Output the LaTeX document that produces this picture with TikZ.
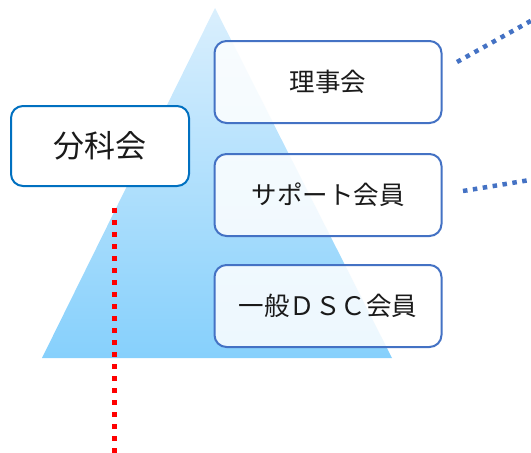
\documentclass[tikz,border=0pt]{standalone}
\usepackage{fontspec}
\setmainfont{Noto Sans CJK JP}
\usepackage{tikz}
\usetikzlibrary{positioning}
\definecolor{boxline}{HTML}{4472C4}
\definecolor{bunline}{HTML}{0070C0}
\definecolor{pyrtop}{HTML}{DAEFFD}
\definecolor{pyrbot}{HTML}{86D0FC}
\definecolor{txt}{HTML}{1A1A1A}
\begin{document}
\begin{tikzpicture}[x=1pt, y=-1pt,
    rank/.style={draw=boxline, line width=2pt, rounded corners=12pt, fill=white,
        fill opacity=0.85, text opacity=1, text=txt, minimum width=227pt,
        minimum height=82pt, font=\fontsize{25.5}{30}\selectfont},
    bunka/.style={draw=bunline, line width=2pt, rounded corners=12pt, fill=white,
        text=txt, minimum width=178pt, minimum height=80pt,
        font=\fontsize{31}{36}\selectfont},
    bluedots/.style={draw=boxline, line width=4.5pt, dash pattern=on 4.5pt off 5.5pt},
    reddots/.style={draw=red, line width=5pt, dash pattern=on 5pt off 7pt}]
    \useasboundingbox (0,0) rectangle (531,453);

    % Pyramid
    \shade [top color=pyrtop, bottom color=pyrbot] (215,8) -- (392,358) -- (42,358) -- cycle;

    % Nodes {riji, support, ippan, bunka}
    \node [rank]  (riji)    at (328,82)   {理事会};
    \node [rank]  (support) [below=29pt of riji]    {サポート会員};
    \node [rank]  (ippan)   [below=27pt of support] {一般ＤＳＣ会員};
    \node [bunka] (bunka)   at (100,146)  {分科会};

    % Free ends
    \coordinate (r1) at (457,62);
    \coordinate (r1e) at (536,18);
    \coordinate (r2) at (463,191);
    \coordinate (r2e) at (536,179);
    \coordinate (b1) at (114,208);
    \coordinate (b1e) at (114,456);

    % Paths
    \path [bluedots] (r1) -- (r1e);
    \path [bluedots] (r2) -- (r2e);
    \path [reddots]  (b1) -- (b1e);
\end{tikzpicture}
\end{document}
